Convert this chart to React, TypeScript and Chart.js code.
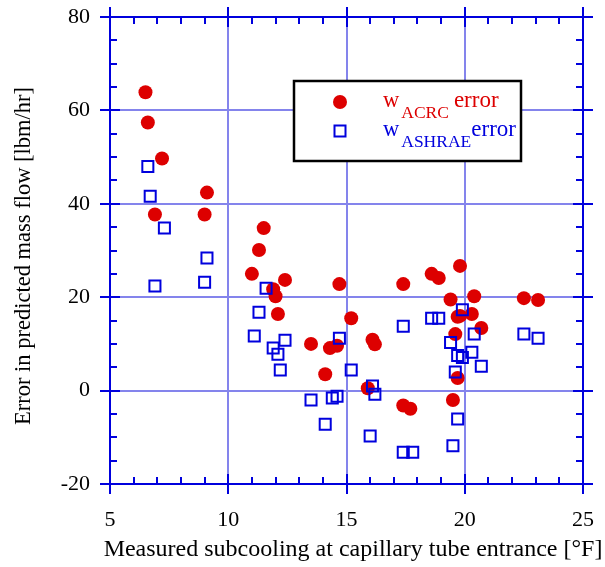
import { useEffect, useRef } from "react";
import { Chart, registerables } from "chart.js";

Chart.register(...registerables);

// Measured subcooling [°F] and prediction error [lbm/hr] for each correlation
const acrcSubcooling = [
  6.5, 6.6, 7.2, 9.1, 6.9, 9.0, 11.5, 11.3, 11.0, 12.4, 11.9, 12.0, 12.1,
  14.7, 15.2, 13.5, 14.3, 14.6, 14.1, 15.9, 16.1, 16.2, 17.4, 18.6, 18.9,
  19.8, 19.4, 20.4, 19.7, 19.8, 20.3, 20.7, 19.6, 19.7, 19.5, 17.4, 17.7,
  22.5, 23.1,
];
const acrcError = [
  63.9, 57.4, 49.7, 42.4, 37.7, 37.7, 34.8, 30.1, 25.0, 23.7, 21.7, 20.2,
  16.4, 22.8, 15.5, 10.0, 9.1, 9.6, 3.5, 0.5, 10.9, 9.9, 22.8, 25.0, 24.1,
  26.7, 19.5, 20.2, 15.8, 16.0, 16.4, 13.4, 12.1, 2.7, -2.0, -3.2, -3.9,
  19.8, 19.4,
];
const ashraeSubcooling = [
  6.6, 6.7, 7.3, 9.1, 6.9, 9.0, 11.6, 11.3, 11.1, 12.4, 11.9, 12.1, 12.2,
  14.7, 15.2, 13.5, 14.4, 14.6, 14.1, 16.1, 16.2, 16.0, 17.4, 18.6, 18.9,
  19.9, 20.4, 19.4, 20.3, 19.7, 19.9, 20.7, 19.6, 19.7, 19.5, 17.4, 17.8,
  22.5, 23.1,
];
const ashraeError = [
  48.0, 41.6, 34.8, 28.4, 22.4, 23.2, 21.9, 16.8, 11.7, 10.8, 9.1, 7.8, 4.4,
  11.2, 4.4, -2.0, -1.6, -1.2, -7.2, 1.0, -0.8, -9.7, 13.8, 15.5, 15.5, 17.3,
  12.1, 10.3, 8.2, 7.5, 7.1, 5.2, 4.0, -6.1, -11.8, -13.2, -13.2, 12.1, 11.2,
];

const xTickValues = [5, 10, 15, 20, 25];
const yTickValues = [-20, 0, 20, 40, 60, 80];

const xTitle = "Measured subcooling at capillary tube entrance [°F]";
const yTitle = "Error in predicted mass flow [lbm/hr]";
const legendLabels = [
  { main: "w", sub: "ACRC", tail: "error" },
  { main: "w", sub: "ASHRAE", tail: "error" },
];

const RED = "#dd0000";
const BLUE = "#0000dd";
const GRID = "#8484ec";
const SERIF = "'Liberation Serif', 'DejaVu Serif', serif";

const toPoints = (xs: number[], ys: number[]) =>
  xs.map((x, i) => ({ x, y: ys[i] }));

// Blue frame with crossing major ticks and inward minor ticks on all four sides
const framePlugin = {
  id: "frame",
  afterDraw(chart: any) {
    const { ctx, chartArea: a } = chart;
    const xs = chart.scales.x;
    const ys = chart.scales.y;
    ctx.save();
    ctx.strokeStyle = BLUE;
    ctx.lineWidth = 2;
    ctx.strokeRect(a.left, a.top, a.right - a.left, a.bottom - a.top);

    const majorOut = 10;
    const majorIn = 10;
    const minorIn = 7;

    ctx.beginPath();
    for (let v = xs.min; v <= xs.max + 1e-9; v += 1) {
      const px = Math.round(xs.getPixelForValue(v));
      const major = xTickValues.includes(v);
      const inn = major ? majorIn : minorIn;
      const out = major ? majorOut : 0;
      ctx.moveTo(px, a.bottom + out);
      ctx.lineTo(px, a.bottom - inn);
      ctx.moveTo(px, a.top - out);
      ctx.lineTo(px, a.top + inn);
    }
    for (let v = ys.min; v <= ys.max + 1e-9; v += 5) {
      const py = Math.round(ys.getPixelForValue(v));
      const major = yTickValues.includes(v);
      const inn = major ? majorIn : minorIn;
      const out = major ? majorOut : 0;
      ctx.moveTo(a.left - out, py);
      ctx.lineTo(a.left + inn, py);
      ctx.moveTo(a.right + out, py);
      ctx.lineTo(a.right - inn, py);
    }
    ctx.stroke();

    // Axis titles
    ctx.fillStyle = "#000";
    ctx.textAlign = "center";
    ctx.textBaseline = "middle";
    ctx.font = `24px ${SERIF}`;
    ctx.fillText(xTitle, 353, 550);
    ctx.save();
    ctx.translate(24, 256);
    ctx.rotate(-Math.PI / 2);
    ctx.font = `22.5px ${SERIF}`;
    ctx.fillText(yTitle, 0, 0);
    ctx.restore();

    // Legend
    const bx = 294;
    const by = 81;
    ctx.fillStyle = "#fff";
    ctx.fillRect(bx, by, 227, 80);
    ctx.strokeStyle = "#000";
    ctx.lineWidth = 2.5;
    ctx.strokeRect(bx, by, 227, 80);

    ctx.fillStyle = RED;
    ctx.beginPath();
    ctx.arc(340, 102, 7, 0, Math.PI * 2);
    ctx.fill();
    ctx.strokeStyle = BLUE;
    ctx.lineWidth = 2;
    ctx.strokeRect(334.5, 125.5, 11, 11);

    const rows = [
      { color: RED, base: 107, subBase: 118, gap: 5 },
      { color: BLUE, base: 136, subBase: 147, gap: 0 },
    ];
    ctx.textAlign = "left";
    ctx.textBaseline = "alphabetic";
    legendLabels.forEach((lab, i) => {
      const r = rows[i];
      ctx.fillStyle = r.color;
      let x = 383;
      ctx.font = `22.5px ${SERIF}`;
      ctx.fillText(lab.main, x, r.base);
      x += ctx.measureText(lab.main).width + 2;
      ctx.font = `17.5px ${SERIF}`;
      ctx.fillText(lab.sub, x, r.subBase);
      x += ctx.measureText(lab.sub).width + r.gap;
      ctx.font = `23px ${SERIF}`;
      ctx.fillText(lab.tail, x, r.base);
    });
    ctx.restore();
  },
};

export default function App() {
  const canvasRef = useRef<HTMLCanvasElement | null>(null);

  useEffect(() => {
    const canvas = canvasRef.current;
    if (!canvas) return;
    const chart = new Chart(canvas, {
      type: "scatter",
      data: {
        datasets: [
          {
            label: "ASHRAE",
            data: toPoints(ashraeSubcooling, ashraeError),
            pointStyle: "rect",
            pointRadius: 7.8,
            backgroundColor: "rgba(0,0,0,0)",
            borderColor: BLUE,
            borderWidth: 2,
            order: 0,
          },
          {
            label: "ACRC",
            data: toPoints(acrcSubcooling, acrcError),
            pointStyle: "circle",
            pointRadius: 7,
            backgroundColor: RED,
            borderWidth: 0,
            order: 1,
          },
        ],
      },
      options: {
        responsive: false,
        animation: false,
        devicePixelRatio: 1,
        layout: { padding: { left: 0, top: 17, right: 22, bottom: 0 } },
        plugins: {
          legend: { display: false },
          tooltip: { enabled: false },
        },
        scales: {
          x: {
            type: "linear",
            min: 5,
            max: 25,
            afterBuildTicks: (s: any) => {
              s.ticks = xTickValues.map((value) => ({ value }));
            },
            afterFit: (s: any) => {
              s.height = 83;
              s.paddingLeft = 0;
              s.paddingRight = 0;
            },
            ticks: {
              color: "#000",
              font: { family: SERIF, size: 22 },
              padding: 23,
              maxRotation: 0,
            },
            grid: { color: GRID, lineWidth: 2, drawTicks: false },
            border: { display: false },
          },
          y: {
            type: "linear",
            min: -20,
            max: 80,
            afterBuildTicks: (s: any) => {
              s.ticks = yTickValues.map((value) => ({ value }));
            },
            afterFit: (s: any) => {
              s.width = 110;
              s.paddingTop = 0;
              s.paddingBottom = 0;
            },
            ticks: {
              color: "#000",
              font: { family: SERIF, size: 22 },
              padding: 20,
            },
            grid: { color: GRID, lineWidth: 2, drawTicks: false },
            border: { display: false },
          },
        },
      },
      plugins: [framePlugin],
    });
    return () => chart.destroy();
  }, []);

  return (
    <div style={{ position: "absolute", left: 0, top: 0, width: 605, height: 567, background: "#fff" }}>
      <canvas ref={canvasRef} width={605} height={567} style={{ display: "block", width: 605, height: 567 }} />
    </div>
  );
}
